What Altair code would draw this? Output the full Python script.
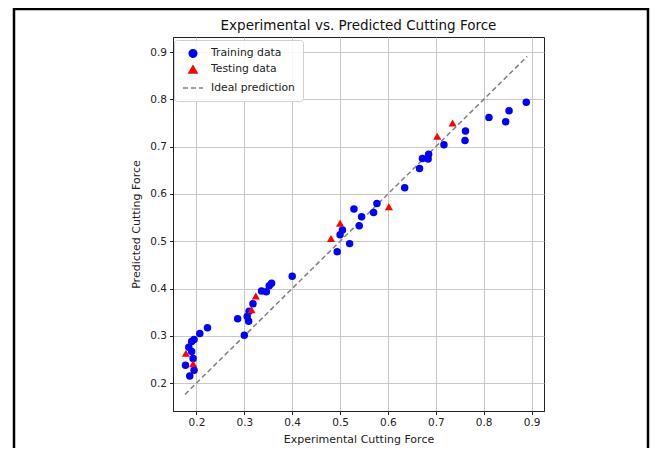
import altair as alt
import pandas as pd

# ---- data ----
series_names = ["Training data", "Testing data", "Ideal prediction"]
series_colors = ["#0000ff", "#ff0000", "#808080"]
series_shapes = ["circle", "triangle-up", "stroke"]
series_sizes = [56, 66, 400]
series_dashes = [[1, 0], [1, 0], [5, 3]]

train_x = [0.889, 0.853, 0.846, 0.811, 0.762, 0.761, 0.717, 0.685, 0.684, 0.672,
           0.666, 0.635, 0.577, 0.529, 0.570, 0.545, 0.540, 0.505, 0.500, 0.520,
           0.494, 0.400, 0.357, 0.352, 0.346, 0.336, 0.318, 0.310, 0.306, 0.309,
           0.286, 0.300, 0.223, 0.207, 0.195, 0.190, 0.184, 0.190, 0.193, 0.177,
           0.195, 0.186]
train_y = [0.794, 0.776, 0.753, 0.762, 0.733, 0.713, 0.704, 0.684, 0.674, 0.675,
           0.654, 0.613, 0.580, 0.568, 0.561, 0.552, 0.533, 0.524, 0.514, 0.495,
           0.478, 0.426, 0.411, 0.406, 0.393, 0.395, 0.368, 0.352, 0.341, 0.331,
           0.336, 0.301, 0.317, 0.305, 0.292, 0.288, 0.276, 0.267, 0.252, 0.238,
           0.227, 0.215]

test_x = [0.735, 0.703, 0.602, 0.500, 0.481, 0.324, 0.315, 0.178, 0.193]
test_y = [0.750, 0.722, 0.573, 0.538, 0.506, 0.384, 0.355, 0.263, 0.241]

ideal_x = [0.176, 0.891]
ideal_y = [0.176, 0.891]

tick_values = [0.2, 0.3, 0.4, 0.5, 0.6, 0.7, 0.8, 0.9]

# ---- tables ----
points = pd.concat([
    pd.DataFrame({"x": train_x, "y": train_y, "series": series_names[0]}),
    pd.DataFrame({"x": test_x, "y": test_y, "series": series_names[1]}),
], ignore_index=True)
ideal = pd.DataFrame({"x": ideal_x, "y": ideal_y, "series": series_names[2]})

xscale = alt.Scale(domain=[0.151, 0.926], nice=False, zero=False)
yscale = alt.Scale(domain=[0.141, 0.932], nice=False, zero=False)
color_scale = alt.Scale(domain=series_names, range=series_colors)
shape_scale = alt.Scale(domain=series_names, range=series_shapes)
size_scale = alt.Scale(type="ordinal", domain=series_names, range=series_sizes)
dash_scale = alt.Scale(domain=series_names, range=series_dashes)

legend = alt.Legend(
    title=None, orient="none", legendX=1, legendY=3,
    fillColor="rgba(255,255,255,0.85)", strokeColor="#d0d0d0", cornerRadius=3,
    padding=8, labelFont="DejaVu Sans", labelFontSize=10.8, labelColor="#222",
    labelOffset=7, rowPadding=1, symbolStrokeWidth=1.5, symbolOpacity=1,
)

x_enc = alt.X("x:Q", scale=xscale, title="Experimental Cutting Force",
              axis=alt.Axis(values=tick_values, format=".1f"))
y_enc = alt.Y("y:Q", scale=yscale, title="Predicted Cutting Force",
              axis=alt.Axis(values=tick_values, format=".1f"))

line = alt.Chart(ideal).mark_line(strokeWidth=1.5).encode(
    x=x_enc, y=y_enc,
    color=alt.Color("series:N", scale=color_scale, legend=legend),
    strokeDash=alt.StrokeDash("series:N", scale=dash_scale, legend=legend),
)

pts = alt.Chart(points).mark_point(filled=True, opacity=1).encode(
    x=x_enc, y=y_enc,
    color=alt.Color("series:N", scale=color_scale, legend=legend),
    shape=alt.Shape("series:N", scale=shape_scale, legend=legend),
    size=alt.Size("series:N", scale=size_scale, legend=legend),
)

# decorative frame of the picture
frame_src = pd.DataFrame({"k": [0]})
left_edge = alt.Chart(frame_src).mark_rule(color="black", strokeWidth=2.5).encode(
    x=alt.value(-159), y=alt.value(-29), y2=alt.value(420))
right_edge = alt.Chart(frame_src).mark_rule(color="black", strokeWidth=2.5).encode(
    x=alt.value(475), y=alt.value(-29), y2=alt.value(420))
top_edge = alt.Chart(frame_src).mark_rule(color="black", strokeWidth=2.5).encode(
    x=alt.value(-159), x2=alt.value(475), y=alt.value(-28))

chart = alt.layer(line, pts, left_edge, right_edge, top_edge).properties(
    width=371, height=374,
    title=alt.TitleParams("Experimental vs. Predicted Cutting Force", offset=0, dy=26),
    autosize=alt.AutoSizeParams(type="none"),
    padding={"left": 165, "top": 29, "right": 108, "bottom": 37},
).configure_axis(
    grid=True, gridColor="#c8c8c8", gridWidth=1,
    domainColor="#222", tickColor="#222", tickSize=3.5,
    labelFont="DejaVu Sans", labelFontSize=10.5, labelColor="#222", labelPadding=3,
    titleFont="DejaVu Sans", titleFontSize=11, titleFontWeight="normal", titleColor="#222",
).configure_axisX(titlePadding=5).configure_axisY(titlePadding=8).configure_view(
    stroke="#222", strokeWidth=1,
).configure_title(
    font="DejaVu Sans", fontSize=13.5, fontWeight="normal", color="#111", anchor="middle",
)

chart.save("out.html", embed_options={"renderer": "svg", "actions": False})
